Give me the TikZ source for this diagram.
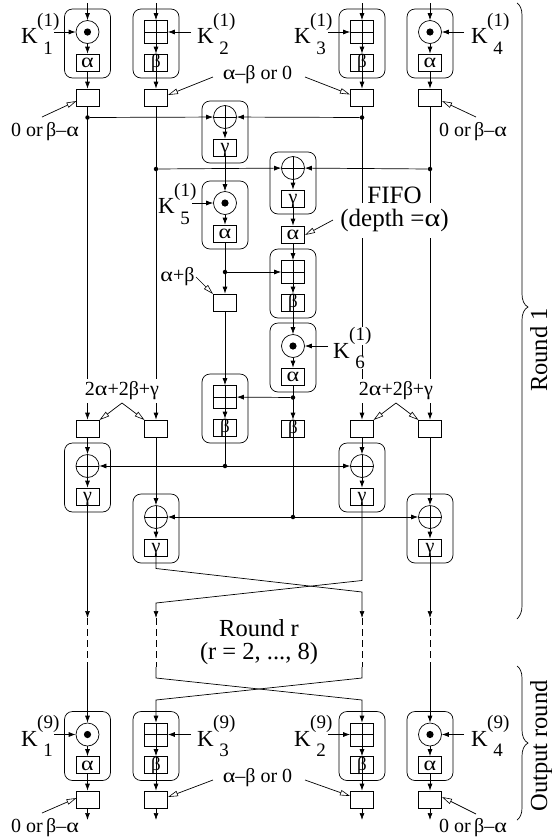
\documentclass[tikz,border=0pt]{standalone}
\usepackage{fontspec}
\setmainfont{Liberation Serif}
\usetikzlibrary{arrows.meta}
\newcommand{\fs}[1]{\fontsize{#1}{#1}\selectfont}
\newcommand{\Aa}{\scalebox{1.2}[1]{α}}
\tikzset{
  base/.style={line width=0.7pt},
  arr/.style={base,-{Latex[length=7pt,width=5pt]}},
  ptr/.style={base,-{Triangle[fill=white,length=10pt,width=5.5pt,line width=0.6pt]}},
  rbox/.style={base,draw,rounded corners=8pt,minimum width=46,inner sep=0},
  sym/.style={base,draw,minimum width=23,minimum height=17,inner sep=0,text height=10pt,text depth=0pt,font=\fs{20}},
  symA/.style={sym,node contents={\Aa}},
  symB/.style={sym,font=\fs{19},path picture={\draw[base] (path picture bounding box.north)--(path picture bounding box.south);},node contents={β}},
  symG/.style={sym,node contents={γ}},
  delay/.style={base,draw,minimum width=23,minimum height=17,inner sep=0},
  opdot/.style={base,draw,circle,minimum size=23,inner sep=0,path picture={\fill (path picture bounding box.center) circle (3.6);}},
  opxor/.style={base,draw,circle,minimum size=23,inner sep=0,path picture={\draw[base] (path picture bounding box.north)--(path picture bounding box.south) (path picture bounding box.west)--(path picture bounding box.east);}},
  opadd/.style={base,draw,minimum size=23,inner sep=0,path picture={\draw[base] (path picture bounding box.north)--(path picture bounding box.south) (path picture bounding box.west)--(path picture bounding box.east);}},
  jn/.style={fill,circle,minimum size=4.5,inner sep=0},
  lab/.style={font=\fs{20},inner sep=0.5pt},
  big/.style={font=\fs{24.5},inner sep=0.5pt},
  knode/.style={font=\fs{23},inner sep=0,anchor=base west},
  ksup/.style={font=\fs{19},inner sep=0,anchor=base west},
  ksub/.style={font=\fs{19},inner sep=0,anchor=base},
}
% name, x, top, height, op style, symbol style
\newcommand{\blk}[6]{%
  \node[rbox,minimum height=#4] (#1) at (#2,{#3+#4/2}) {};
  \node[#5] (#1-op) at (#2,{#3+#4-46}) {};
  \node (#1-d) at (#2,{#3+#4-15.5}) [#6];
  \draw[arr] (#1-op) -- (#1-d);
}
% name, x, y of K baseline, superscript, subscript, extra style
\newcommand{\klab}[6]{%
  \node[knode] (#1) at (#2,#3) {K};
  \node[ksup,#6] (#1-sup) at ({#2+16},{#3-17.5}) {#4};
  \node[ksub,#6] (#1-sub) at ({#2+27},{#3+10.5}) {#5};
}
\begin{document}
\begin{tikzpicture}[x=1pt,y=-1pt]
\useasboundingbox (0,0) rectangle (552,839);
% ---------- blocks
\blk{a1}{87.5}{9}{69}{opdot}{symA}
\blk{a2}{156}{9}{69}{opadd}{symB}
\blk{a3}{362}{9}{69}{opadd}{symB}
\blk{a4}{430}{9}{69}{opdot}{symA}
\blk{xa}{225}{101}{62}{opxor}{symG}
\blk{xb}{293}{152}{62}{opxor}{symG}
\blk{k5}{225}{181}{68}{opdot}{symA}
\blk{g}{293}{249}{69}{opadd}{symB}
\blk{k6}{293}{323}{69}{opdot}{symA}
\blk{h}{225}{374}{69}{opadd}{symB}
\blk{x1}{87.5}{443}{69}{opxor}{symG}
\blk{x2}{156}{494}{69}{opxor}{symG}
\blk{x3}{362}{443}{69}{opxor}{symG}
\blk{x4}{430}{494}{69}{opxor}{symG}
\blk{z1}{87.5}{711.5}{69}{opdot}{symA}
\blk{z2}{156}{711.5}{69}{opadd}{symB}
\blk{z3}{362}{711.5}{69}{opadd}{symB}
\blk{z4}{430}{711.5}{69}{opdot}{symA}
% ---------- delays
\node[delay] (d1) at (87.5,97.5) {};
\node[delay] (d2) at (156,97.5) {};
\node[delay] (d3) at (362,97.5) {};
\node[delay] (d4) at (430,97.5) {};
\node (fifo) at (293,234.5) [symA];
\node[delay] (ab) at (225,302.5) {};
\node (bd) at (293,428.5) [symB];
\node[delay] (e1) at (87.5,428.5) {};
\node[delay] (e2) at (156,428.5) {};
\node[delay] (e3) at (362,428.5) {};
\node[delay] (e4) at (430,428.5) {};
\node[delay] (f1) at (87.5,799.5) {};
\node[delay] (f2) at (156,799.5) {};
\node[delay] (f3) at (362,799.5) {};
\node[delay] (f4) at (430,799.5) {};
% ---------- junctions
\node[jn] (j1) at (87.5,117.5) {};
\node[jn] (j3) at (362,117.5) {};
\node[jn] (j2) at (156,169) {};
\node[jn] (j4) at (430,169) {};
\node[jn] (j5) at (225,272) {};
\node[jn] (j6) at (293,397.5) {};
\node[jn] (j7) at (225,466) {};
\node[jn] (j8) at (293,517) {};
% ---------- free ends
\foreach \n/\x in {1/87.5,2/156,3/362,4/430}{
  \coordinate (in\n) at (\x,3);
  \coordinate (out\n) at (\x,820);
  \coordinate (w\n) at (\x,403);
}
\coordinate (ka1) at (54,32);
\coordinate (ka2) at (191,32);
\coordinate (ka3) at (328,32);
\coordinate (ka4) at (464,32);
\coordinate (ka5) at (192,203);
\coordinate (ka6) at (328,346);
\coordinate (kz1) at (54,734.5);
\coordinate (kz2) at (191,734.5);
\coordinate (kz3) at (328,734.5);
\coordinate (kz4) at (464,734.5);
% crossing and dashed section points
\coordinate (c1a) at (87.5,618); \coordinate (c1b) at (87.5,667);
\coordinate (c2a) at (156,618);  \coordinate (c2b) at (156,667);
\coordinate (c3a) at (362,618);  \coordinate (c3b) at (362,667);
\coordinate (c4a) at (430,618);  \coordinate (c4b) at (430,667);
\coordinate (s1) at (156,568.5); \coordinate (s2) at (362,592);
\coordinate (s3) at (362,580.5); \coordinate (s4) at (156,603);
\coordinate (t1) at (156,678);   \coordinate (t2) at (362,700);
\coordinate (t3) at (362,678);   \coordinate (t4) at (156,700);
% ---------- connectors: top row
\foreach \n in {1,2,3,4}{
  \draw[arr] (in\n) -- (a\n-op);
  \draw[arr] (a\n-d) -- (d\n);
  \draw[base] (d\n) -- (w\n);
  \draw[arr] (w\n) -- (e\n);
}
\draw[arr] (ka1) -- (a1-op);
\draw[arr] (ka2) -- (a2-op);
\draw[arr] (ka3) -- (a3-op);
\draw[arr] (ka4) -- (a4-op);
% centre column
\draw[arr] (j1) -- (xa-op);
\draw[arr] (j3) -- (xa-op);
\draw[arr] (j2) -- (xb-op);
\draw[arr] (j4) -- (xb-op);
\draw[arr] (xa-d) -- (k5-op);
\draw[arr] (ka5) -- (k5-op);
\draw[arr] (k5-d) -- (ab);
\draw[arr] (j5) -- (g-op);
\draw[arr] (xb-d) -- (fifo);
\draw[arr] (fifo) -- (g-op);
\draw[arr] (g-d) -- (k6-op);
\draw[arr] (ka6) -- (k6-op);
\draw[arr] (k6-d) -- (bd);
\draw[arr] (j6) -- (h-op);
\draw[arr] (ab) -- (h-op);
\draw[base] (h-d) -- (j7);
\draw[base] (bd) -- (j8);
\draw[arr] (j7) -- (x1-op);
\draw[arr] (j7) -- (x3-op);
\draw[arr] (j8) -- (x2-op);
\draw[arr] (j8) -- (x4-op);
\draw[arr] (e1) -- (x1-op);
\draw[arr] (e2) -- (x2-op);
\draw[arr] (e3) -- (x3-op);
\draw[arr] (e4) -- (x4-op);
% crossing and dashes
\draw[arr] (x1-d) -- (c1a);
\draw[arr] (x2-d) -- (s1) -- (s2) -- (c3a);
\draw[arr] (x3-d) -- (s3) -- (s4) -- (c2a);
\draw[arr] (x4-d) -- (c4a);
\foreach \n in {1,2,3,4}{
  \draw[base,dash pattern=on 7pt off 4pt] (c\n a) -- (c\n b);
}
\draw[arr] (c1b) -- (z1-op);
\draw[arr] (c2b) -- (t1) -- (t2) -- (z3-op);
\draw[arr] (c3b) -- (t3) -- (t4) -- (z2-op);
\draw[arr] (c4b) -- (z4-op);
% output round
\draw[arr] (kz1) -- (z1-op);
\draw[arr] (kz2) -- (z2-op);
\draw[arr] (kz3) -- (z3-op);
\draw[arr] (kz4) -- (z4-op);
\foreach \n in {1,2,3,4}{
  \draw[arr] (z\n-d) -- (f\n);
  \draw[arr] (f\n) -- (out\n);
}
% ---------- text labels
\klab{k1}{21}{43.5}{(1)}{1}{}
\klab{k2}{197}{43.5}{(1)}{2}{}
\klab{k3}{294}{43.5}{(1)}{3}{}
\klab{k4}{471}{43.5}{(1)}{4}{}
\klab{kk5}{158}{213.5}{(1)}{5}{}
\klab{kk6}{333}{358}{(1)}{6}{fill=white}
\klab{y1}{21}{746}{(9)}{1}{}
\klab{y3}{197}{746}{(9)}{3}{}
\klab{y2}{294}{746}{(9)}{2}{}
\klab{y4}{471}{746}{(9)}{4}{}
\node[lab] (l1) at (45,132) {0 or\,β–\Aa};
\node[lab] (l2) at (473,132) {0 or\,β–\Aa};
\node[lab] (l3) at (257.5,75) {\Aa–β or 0};
\node[lab] (l4) at (45,828) {0 or\,β–\Aa};
\node[lab] (l5) at (473,828) {0 or\,β–\Aa};
\node[lab] (l6) at (257.5,778) {\Aa–β or 0};
\node[lab] (l7) at (177.5,277) {\Aa+β};
\node[lab,fill=white,minimum height=24pt] (l8) at (122,391) {2\Aa+2β+γ};
\node[lab,fill=white,minimum height=24pt] (l9) at (396,391) {2\Aa+2β+γ};
\node[big,font=\fs{25},fill=white,minimum height=35pt] (ff2) at (394.5,220.5) {(depth =\Aa)};
\node[big,font=\fs{25},anchor=base] (ff1) at (394.5,203) {FIFO};
\node[big] (rr1) at (259,628) {Round r};
\node[big] (rr2) at (259,654) {(r = 2, ..., 8)};
\node[big,rotate=90,anchor=base] (rd1) at (547,350) {Round 1};
\node[big,rotate=90,anchor=base] (rd2) at (547,746) {Output round};
% ---------- label pointers
\coordinate (p1) at (42,117);    \coordinate (q1) at (76.5,101);
\coordinate (p2) at (476,117);   \coordinate (q2) at (442,101);
\coordinate (p3) at (213,77);    \coordinate (q3) at (168,95);
\coordinate (p4) at (305,77);    \coordinate (q4) at (350,94.5);
\coordinate (p5) at (42,813);    \coordinate (q5) at (76.5,798);
\coordinate (p6) at (476,814);   \coordinate (q6) at (442,797);
\coordinate (p7) at (213,780);   \coordinate (q7) at (168,797);
\coordinate (p8) at (305,780);   \coordinate (q8) at (350,796);
\coordinate (p9) at (196,277);   \coordinate (q9) at (213,294);
\coordinate (p10) at (333,220);  \coordinate (q10) at (305,235);
\coordinate (v1) at (122,403);   \coordinate (v2) at (396,403);
\foreach \n in {1,...,10}{ \draw[ptr] (p\n) -- (q\n); }
\draw[ptr] (v1) -- (99.5,420);
\draw[ptr] (v1) -- (144.5,420);
\draw[ptr] (v2) -- (373.5,420);
\draw[ptr] (v2) -- (418.5,420);
% ---------- braces
\draw[line width=0.7pt] (517,3) .. controls (520,5) and (522,9) .. (522,15) -- (522,294)
  .. controls (522,300) and (524,305) .. (528,307) .. controls (524,309) and (522,314) .. (522,320)
  -- (522,606) .. controls (522,612) and (520,616) .. (517,619);
\draw[line width=0.7pt] (517,666) .. controls (520,668) and (522,672) .. (522,678) -- (522,730)
  .. controls (522,736) and (524,741) .. (528,743) .. controls (524,745) and (522,750) .. (522,756)
  -- (522,808) .. controls (522,814) and (520,818) .. (517,820);
\end{tikzpicture}
\end{document}
